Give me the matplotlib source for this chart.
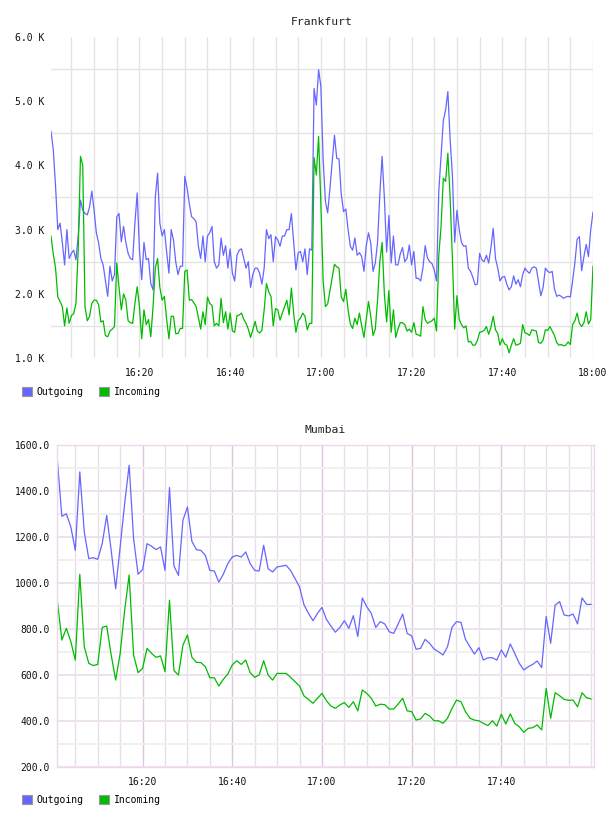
"""Outgoing / incoming traffic for two sites (Frankfurt, Mumbai), 16:00-18:00."""
import numpy as np
import pandas as pd
import matplotlib
matplotlib.use("Agg")
import matplotlib.pyplot as plt
import matplotlib.dates as mdates
from matplotlib.patches import Patch
from matplotlib.ticker import MultipleLocator, FuncFormatter

# Frankfurt, one sample every 30 s from 16:00:30, values in K
FRA_OUT = [
    4.53, 4.25, 3.68, 3.0, 3.1, 2.8, 2.45, 3.0, 2.55, 2.63,
    2.68, 2.53, 2.9, 3.46, 3.3, 3.25, 3.23, 3.35, 3.6, 3.3,
    2.95, 2.79, 2.55, 2.45, 2.2, 1.96, 2.43, 2.2, 2.3, 3.2,
    3.25, 2.81, 3.05, 2.8, 2.63, 2.55, 2.53, 3.1, 3.57, 2.68,
    2.22, 2.8, 2.53, 2.55, 2.16, 2.06, 3.5, 3.88, 3.1, 2.9,
    3.0, 2.65, 2.32, 3.0, 2.84, 2.5, 2.3, 2.43, 2.43, 3.83,
    3.65,
    3.4, 3.2, 3.17, 3.12, 2.74, 2.55, 2.9, 2.5, 2.9, 2.95,
    3.05, 2.5, 2.4, 2.45, 2.87, 2.6, 2.75, 2.4, 2.7, 2.32,
    2.2, 2.6, 2.68, 2.7, 2.55, 2.4, 2.5, 2.1, 2.3, 2.4,
    2.4, 2.32, 2.15, 2.4, 3.0, 2.86, 2.92, 2.5, 2.89, 2.84,
    2.74, 2.9, 2.9, 3.0, 3.0, 3.25, 2.8, 2.37, 2.64, 2.66,
    2.5, 2.7, 2.3, 2.7, 2.68, 5.2, 4.94, 5.49, 5.23,
    4.1, 3.44, 3.26, 3.64, 4.05, 4.47, 4.11, 4.1, 3.55, 3.28,
    3.32, 3.0, 2.74, 2.68, 2.87, 2.6, 2.64, 2.58, 2.35, 2.75,
    2.95, 2.79, 2.35, 2.48, 2.8, 3.55, 4.14, 3.5, 2.65, 3.22,
    2.48, 2.9, 2.45, 2.45, 2.62, 2.72, 2.5, 2.55, 2.76, 2.45,
    2.66, 2.24, 2.24, 2.2, 2.4, 2.75, 2.56, 2.5, 2.47, 2.37,
    2.2, 3.6, 4.15, 4.7, 4.86, 5.15, 4.4, 3.85, 2.8, 3.3,
    3.0, 2.8, 2.74, 2.75, 2.4, 2.35, 2.26, 2.14, 2.15, 2.63,
    2.53, 2.5, 2.6, 2.48, 2.72, 3.02, 2.55, 2.4, 2.2, 2.26,
    2.27, 2.15, 2.06, 2.11, 2.28, 2.15, 2.22, 2.11, 2.3, 2.4,
    2.35, 2.32, 2.4, 2.42, 2.4, 2.18, 1.97, 2.1, 2.4, 2.35,
    2.33, 2.35, 2.08, 1.96, 1.98, 1.96, 1.93, 1.95, 1.96, 1.95,
    2.2, 2.48, 2.85, 2.89, 2.36, 2.58, 2.77, 2.58, 3.0, 3.27,
]
FRA_IN = [
    2.9, 2.62, 2.4, 1.95, 1.88, 1.8, 1.5, 1.78, 1.54, 1.66,
    1.69, 1.85, 2.7, 4.14, 4.0, 1.8, 1.58, 1.65, 1.85, 1.9,
    1.9, 1.83, 1.56, 1.58, 1.35, 1.33, 1.42, 1.45, 1.49, 2.48,
    2.1, 1.75, 2.0, 1.9, 1.58, 1.55, 1.54, 1.85, 2.11, 1.8,
    1.3, 1.75, 1.52, 1.6, 1.33, 1.8, 2.4, 2.55, 2.1, 1.9,
    1.96, 1.6, 1.3, 1.65, 1.65, 1.38, 1.38, 1.46, 1.46, 2.35,
    2.37,
    1.9, 1.91, 1.86, 1.8, 1.63, 1.45, 1.72, 1.52, 1.95, 1.85,
    1.82, 1.5, 1.54, 1.5, 1.93, 1.55, 1.72, 1.45, 1.7, 1.42,
    1.4, 1.66, 1.67, 1.7, 1.6, 1.54, 1.45, 1.32, 1.44, 1.57,
    1.42, 1.39, 1.43, 1.75, 2.16, 2.03, 1.96, 1.5, 1.77, 1.75,
    1.59, 1.7, 1.8, 1.9, 1.67, 2.09, 1.7, 1.4, 1.58, 1.62,
    1.7, 1.65, 1.44, 1.54, 1.54, 4.12, 3.85, 4.45, 3.4,
    2.2, 1.8, 1.84, 2.05, 2.27, 2.46, 2.42, 2.4, 1.95, 1.88,
    2.07, 1.75, 1.53, 1.46, 1.62, 1.52, 1.7, 1.5, 1.32, 1.6,
    1.88, 1.65, 1.35, 1.45, 1.9, 2.5, 2.8, 2.0, 1.56, 2.05,
    1.4, 1.75, 1.32, 1.45, 1.55, 1.55, 1.52, 1.42, 1.45, 1.4,
    1.55, 1.37, 1.36, 1.34, 1.8, 1.6, 1.54, 1.56, 1.58, 1.62,
    1.42, 2.6, 3.05, 3.8, 3.75, 4.19, 3.5, 2.55, 1.45, 1.97,
    1.6, 1.52, 1.47, 1.5, 1.25, 1.26, 1.2, 1.2, 1.27, 1.4,
    1.41, 1.43, 1.49, 1.37, 1.48, 1.65, 1.44, 1.38, 1.2, 1.3,
    1.22, 1.2, 1.08, 1.2, 1.3, 1.2, 1.21, 1.23, 1.52, 1.39,
    1.38, 1.35, 1.44, 1.43, 1.42, 1.24, 1.23, 1.28, 1.44, 1.43,
    1.49, 1.42, 1.35, 1.24, 1.2, 1.21, 1.19, 1.2, 1.25, 1.21,
    1.52, 1.58, 1.7, 1.54, 1.49, 1.55, 1.72, 1.53, 1.6, 2.43,
]

# Mumbai, one sample per minute from 16:01
MUM_OUT = [
    1533, 1290, 1301, 1244, 1142, 1483, 1222, 1106, 1110, 1103,
    1171, 1294, 1142, 975, 1157, 1345, 1512, 1193, 1038, 1058,
    1171, 1160, 1145, 1157, 1055, 1415, 1074, 1033, 1273, 1330,
    1181, 1145, 1142, 1120, 1055, 1052, 1004, 1038, 1084, 1113,
    1120, 1113, 1135, 1084, 1055, 1052, 1164, 1062, 1048, 1070,
    1073, 1077, 1055, 1019, 983, 905,
    868, 836, 868, 894, 842, 813, 786, 807, 836, 803,
    858, 767, 935, 897, 868, 807, 832, 822, 788, 781,
    822, 865, 781, 770, 712, 716, 755, 738, 713, 701,
    687, 723, 807, 832, 829, 755, 723, 691, 719, 665,
    675, 675, 665, 709, 677, 735, 694, 651, 622, 636,
    646, 661, 632, 854, 738, 904, 919, 861, 857, 865,
    822, 935, 907, 907,
]
MUM_IN = [
    920, 752, 803, 745, 665, 1038, 723, 651, 641, 646,
    807, 813, 687, 578, 694, 880, 1035, 687, 610, 629,
    716, 694, 677, 683, 615, 925, 619, 600, 730, 774,
    677, 655, 654, 636, 588, 588, 552, 581, 604, 644,
    662, 646, 665, 610, 590, 600, 662, 600, 578, 607,
    607, 607, 590, 571, 552, 509, 494,
    477, 499, 520, 488, 465, 455, 470, 480, 459, 484,
    444, 535, 520, 499, 465, 473, 471, 452, 452, 474,
    499, 444, 441, 404, 409, 433, 422, 401, 401, 390,
    412, 455, 491, 484, 441, 412, 404, 401, 390, 380,
    401, 378, 429, 387, 431, 390, 375, 351, 368, 371,
    383, 361, 542, 412, 523, 510, 494, 490, 491, 462,
    523, 501, 496,
]

DAY = "2024-01-01 "
FRA_TICKS = ["16:20", "16:40", "17:00", "17:20", "17:40", "18:00"]
MUM_TICKS = ["16:20", "16:40", "17:00", "17:20", "17:40"]

C_OUT, C_IN = "#6666ff", "#00bb00"
W, H = 608, 816


def px_rect(left, top, right, bottom):
    return [left / W, 1 - bottom / H, (right - left) / W, (bottom - top) / H]


def to_num(times):
    return mdates.date2num(pd.to_datetime([DAY + t for t in times]).to_pydatetime())


def style(ax, title, ticks):
    ax.set_title(title, fontsize=8.2, color="#222222", pad=8.5)
    ax.set_xticks(to_num(ticks))
    ax.xaxis.set_major_formatter(mdates.DateFormatter("%H:%M"))
    ax.xaxis.set_minor_locator(mdates.MinuteLocator(byminute=range(0, 60, 5)))
    ax.tick_params(which="both", length=0, labelsize=7, colors="#111111")
    ax.tick_params(axis="x", pad=7)
    ax.tick_params(axis="y", pad=5)
    ax.set_axisbelow(True)


def legend(fig, y):
    handles = [Patch(facecolor=C_OUT, edgecolor="#999999", lw=0.8, label="Outgoing"),
               Patch(facecolor=C_IN, edgecolor="#999999", lw=0.8, label="Incoming")]
    fig.legend(handles=handles, loc="center left", bbox_to_anchor=(22 / W, 1 - y / H),
               ncol=2, frameon=False, fontsize=7, handlelength=1.0, handleheight=1.0,
               handletextpad=0.5, columnspacing=1.6, borderpad=0, borderaxespad=0)


def main():
    plt.rcParams["font.family"] = ["DejaVu Sans Mono"]
    fig = plt.figure(figsize=(W / 100, H / 100), dpi=100)

    # Frankfurt
    fra_t = pd.date_range(DAY + "16:00:30", periods=len(FRA_OUT), freq="30s")
    ax = fig.add_axes(px_rect(51, 37, 593, 358))
    ax.plot(fra_t, FRA_OUT, color=C_OUT, lw=0.9)
    ax.plot(fra_t, FRA_IN, color=C_IN, lw=0.9)
    ax.set_xlim(fra_t[0], fra_t[-1])
    ax.set_ylim(1.0, 6.0)
    ax.yaxis.set_major_locator(MultipleLocator(1.0))
    ax.yaxis.set_minor_locator(MultipleLocator(0.5))
    ax.yaxis.set_major_formatter(FuncFormatter(lambda v, _: f"{v:.1f} K"))
    style(ax, "Frankfurt", FRA_TICKS)
    ax.grid(which="both", axis="x", color="#e4e4e4", lw=1)
    ax.grid(which="minor", axis="y", color="#e4e4e4", lw=1)
    for s in ax.spines.values():
        s.set_visible(False)
    legend(fig, 392)

    # Mumbai
    mum_t = pd.date_range(DAY + "16:01", periods=len(MUM_OUT), freq="1min")
    ax = fig.add_axes(px_rect(57, 445, 594, 767))
    ax.plot(mum_t, MUM_OUT, color=C_OUT, lw=0.9)
    ax.plot(mum_t, MUM_IN, color=C_IN, lw=0.9)
    ax.set_xlim(pd.Timestamp(DAY + "16:00:55"), pd.Timestamp(DAY + "18:00:40"))
    ax.set_ylim(200, 1600)
    ax.yaxis.set_major_locator(MultipleLocator(200))
    ax.yaxis.set_minor_locator(MultipleLocator(100))
    ax.yaxis.set_major_formatter(FuncFormatter(lambda v, _: f"{v:.1f}"))
    style(ax, "Mumbai", MUM_TICKS)
    ax.grid(which="major", axis="x", color="#dcc6dc", lw=1)
    ax.grid(which="minor", axis="x", color="#e6e0e6", lw=1)
    ax.grid(which="major", axis="y", color="#efe2ef", lw=1.4)
    ax.grid(which="minor", axis="y", color="#f0f0f0", lw=1.4)
    for s in ax.spines.values():
        s.set_color("#ecd8ec")
        s.set_linewidth(1)
    legend(fig, 800)

    fig.savefig("out.png", dpi=100)


if __name__ == "__main__":
    main()
